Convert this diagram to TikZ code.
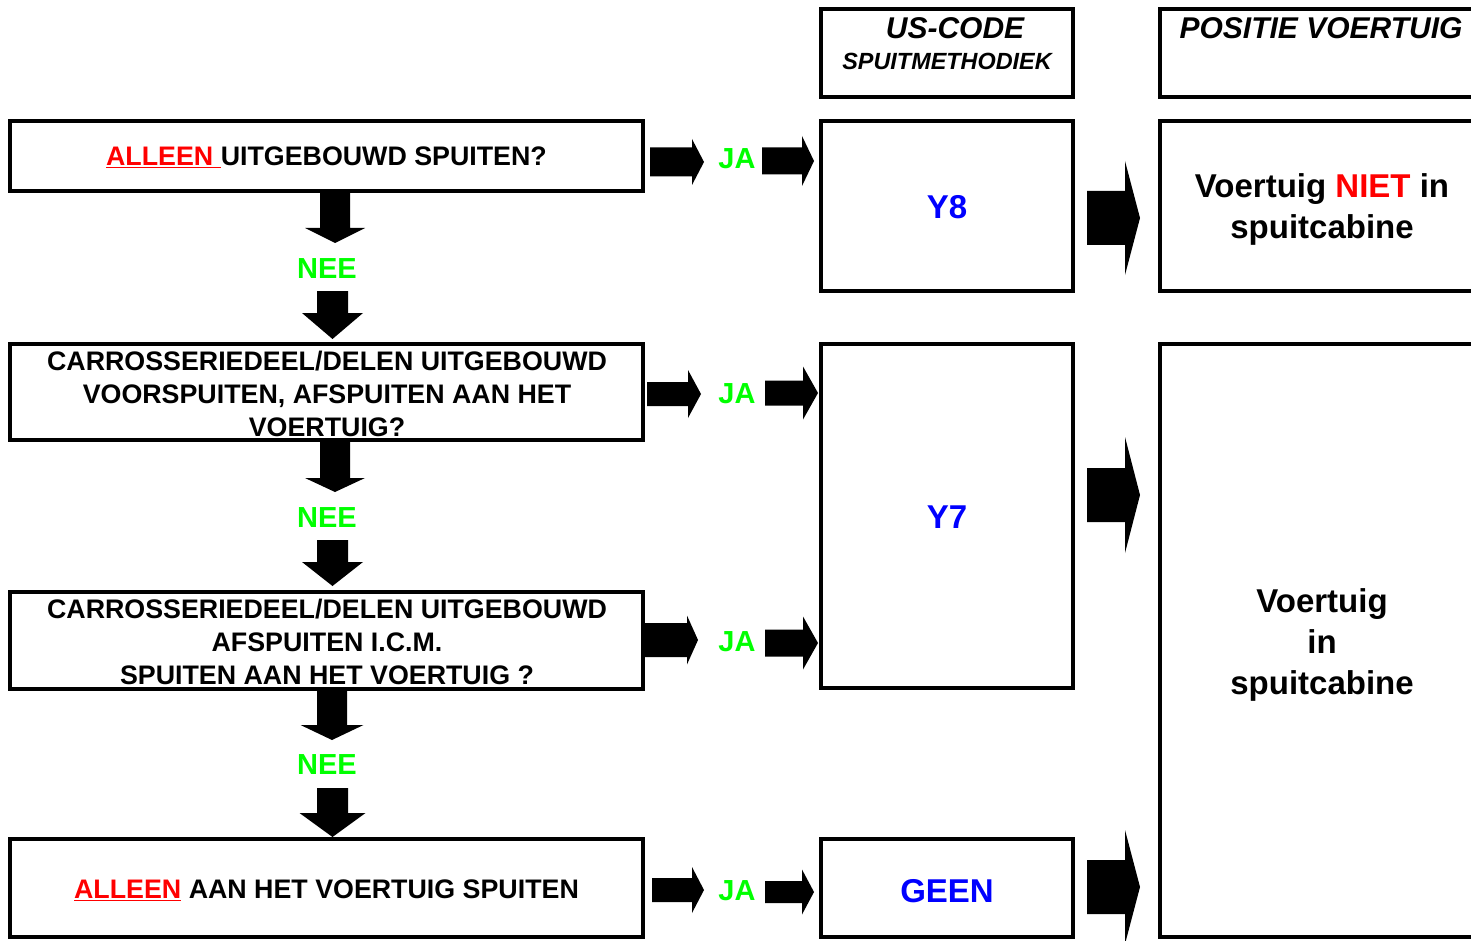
\documentclass[tikz,border=0pt]{standalone}
\usepackage{fontspec}
\setmainfont{Liberation Sans}
\definecolor{jagreen}{RGB}{0,255,0}
\definecolor{alred}{RGB}{255,0,0}
\definecolor{codeblue}{RGB}{0,0,255}
\newcommand\qfont{\bfseries\fontsize{26.8}{33}\selectfont}
\newcommand\jfont{\bfseries\fontsize{29}{33}\selectfont}
\newcommand\vfont{\bfseries\fontsize{33}{41}\selectfont}
\newcommand\hfont{\bfseries\itshape\fontsize{30}{33}\selectfont}
\newcommand\sfontx{\bfseries\itshape\fontsize{23.4}{28}\selectfont}
% right block arrow: x0, xbase, xtip, yc, shaft half, head half
\newcommand\rarrow[6]{\fill ({#1},{#4-#5}) -- ({#2},{#4-#5}) -- ({#2},{#4-#6}) -- ({#3},{#4}) -- ({#2},{#4+#6}) -- ({#2},{#4+#5}) -- ({#1},{#4+#5}) -- cycle;}
% down block arrow: xc, y0, ybase, ytip, shaft half, head half
\newcommand\darrow[6]{\fill ({#1-#5},{#2}) -- ({#1-#5},{#3}) -- ({#1-#6},{#3}) -- ({#1},{#4}) -- ({#1+#6},{#3}) -- ({#1+#5},{#3}) -- ({#1+#5},{#2}) -- cycle;}
\begin{document}
\begin{tikzpicture}[x=1pt,y=-1pt,
  box/.style={draw, line width=4pt, inner sep=0pt, outer sep=0pt},
  qtxt/.style={align=center, font=\qfont, inner sep=0pt},
  ja/.style={text=jagreen, font=\jfont, inner sep=0pt},
  code/.style={text=codeblue, font=\vfont, inner sep=0pt},
  vtxt/.style={font=\vfont, align=center, inner sep=0pt}]
\useasboundingbox (0,0) rectangle (1471,941);
\clip (0,0) rectangle (1471,941);
\fill[white] (0,0) rectangle (1471,941);
% left question boxes
\node[box, minimum width=633pt, minimum height=70pt] (q1) at (326.5,156) {};
\node[qtxt] (q1t) at (326.5,157.5) {\textcolor{alred}{\underline{ALLEEN }}UITGEBOUWD SPUITEN?};
\node[box, minimum width=633pt, minimum height=96pt] (q2) at (326.5,392) {};
\node[qtxt] (q2t) at (327,394) {CARROSSERIEDEEL/DELEN UITGEBOUWD\\VOORSPUITEN, AFSPUITEN AAN HET\\VOERTUIG?};
\node[box, minimum width=633pt, minimum height=97pt] (q3) at (326.5,640) {};
\node[qtxt] (q3t) at (327,642) {CARROSSERIEDEEL/DELEN UITGEBOUWD\\AFSPUITEN I.C.M.\\SPUITEN AAN HET VOERTUIG ?};
\node[box, minimum width=633pt, minimum height=98pt] (q4) at (326.5,888) {};
\node[qtxt] (q4t) at (326.5,890.5) {\textcolor{alred}{\underline{ALLEEN}} AAN HET VOERTUIG SPUITEN};
% middle column
\node[box, minimum width=252pt, minimum height=88pt] (hcode) at (947,53) {};
\node[font=\hfont, inner sep=0pt] (hcodet) at (955,28) {US-CODE};
\node[font=\sfontx, inner sep=0pt] (hcodes) at (947,61) {SPUITMETHODIEK};
\node[box, minimum width=252pt, minimum height=170pt] (c8) at (947,206) {};
\node[code] (y8) at (947,207) {Y8};
\node[box, minimum width=252pt, minimum height=344pt] (c7) at (947,516) {};
\node[code] (y7) at (947,517) {Y7};
\node[box, minimum width=252pt, minimum height=98pt] (cg) at (947,888) {};
\node[code] (geen) at (947,891) {GEEN};
% right column
\node[box, minimum width=330pt, minimum height=88pt] (hpos) at (1325,53) {};
\node[font=\hfont, inner sep=0pt] (hpost) at (1321,28) {POSITIE VOERTUIG};
\node[box, minimum width=330pt, minimum height=170pt] (p1) at (1325,206) {};
\node[vtxt] (p1t) at (1322,209) {Voertuig \textcolor{alred}{NIET} in\\spuitcabine};
\node[box, minimum width=330pt, minimum height=593pt] (p2) at (1325,640.5) {};
\node[vtxt] (p2t) at (1322,645) {Voertuig\\in\\spuitcabine};
% JA labels and arrows
\node[ja] (ja1) at (737,159) {JA};
\node[ja] (ja2) at (737,394) {JA};
\node[ja] (ja3) at (737,642) {JA};
\node[ja] (ja4) at (737,891) {JA};
\rarrow{650}{692}{704}{162}{14.5}{23}
\rarrow{762}{802}{814}{161}{13.5}{25}
\rarrow{647}{688}{701}{394}{12}{24}
\rarrow{765}{803}{818}{393}{12.5}{26.5}
\rarrow{645}{687}{698}{640}{17}{24.5}
\rarrow{765}{803}{818}{643}{13.5}{26.5}
\rarrow{652}{692}{704}{890}{12}{23}
\rarrow{765}{802}{814}{892}{11}{22.5}
% NEE labels and down arrows
\node[ja] (nee1) at (327,269) {NEE};
\node[ja] (nee2) at (327,518) {NEE};
\node[ja] (nee3) at (327,765) {NEE};
\darrow{335}{191}{228}{243}{15}{30}
\darrow{332.5}{291}{313}{339}{15.5}{30.5}
\darrow{335}{440}{478}{492}{15}{30}
\darrow{332.5}{540}{562}{586}{15.5}{30.5}
\darrow{332}{688}{725}{740}{15}{31.5}
\darrow{332.5}{788}{813}{837}{15.5}{33}
% big right arrows
\rarrow{1087}{1125}{1140}{218}{27}{57}
\rarrow{1087}{1125}{1140}{495}{27}{58}
\rarrow{1087}{1125}{1140}{887}{27}{57}
\end{tikzpicture}
\end{document}
